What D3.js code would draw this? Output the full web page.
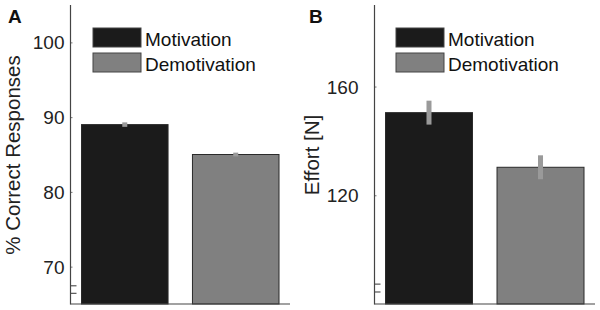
<!DOCTYPE html>
<html><head><meta charset="utf-8">
<script src="https://cdn.jsdelivr.net/npm/d3@7"></script>
<style>body{margin:0;background:#fff}svg{display:block}text{font-family:"Liberation Sans",Arial,sans-serif}</style>
</head><body><svg id="c" width="600" height="310"></svg>
<script>
const categories = ["Motivation", "Demotivation"];
const accuracyMeans = [89, 85];
const accuracySem = [0.3, 0.25];
const accuracyTicks = [70, 80, 90, 100];
const accuracyMinorTicks = [67.5, 66.5];
const effortMeans = [150.4, 130.3];
const effortSem = [4.4, 4.4];
const effortTicks = [120, 160];
const effortMinorTicks = [87.5, 84.6];
const colors = ["#1b1b1b", "#808080"];

const svg = d3.select("#c");

function panel(o) {
  const g = svg.append("g");
  const y = d3.scaleLinear().domain(o.domain).range([304, 5]);
  const x = d3.scaleBand().domain(categories).range([o.x0 + 11, o.x1 - 11]).paddingInner(0.22).paddingOuter(0);
  // bars
  g.selectAll("rect.bar").data(categories).join("rect")
    .attr("x", d => x(d)).attr("width", x.bandwidth())
    .attr("y", (d, i) => y(o.means[i])).attr("height", (d, i) => y(o.domain[0]) - y(o.means[i]))
    .attr("fill", (d, i) => colors[i]).attr("stroke", "#2a2a2a").attr("stroke-width", 1);
  // error bars
  g.selectAll("rect.err").data(categories).join("rect")
    .attr("x", d => x(d) + x.bandwidth() / 2 - 2.5).attr("width", 5)
    .attr("y", (d, i) => y(o.means[i] + o.sem[i]))
    .attr("height", (d, i) => y(o.means[i] - o.sem[i]) - y(o.means[i] + o.sem[i]))
    .attr("fill", "#9a9a9a");
  // axes
  const ax = g.append("g").attr("transform", `translate(${o.x0},0)`)
    .call(d3.axisRight(y).tickValues(o.ticks).tickSize(2).tickFormat(""));
  ax.select(".domain").remove();
  ax.selectAll("line").attr("stroke", "#777");
  const mx = g.append("g").attr("transform", `translate(${o.x0},0)`)
    .call(d3.axisRight(y).tickValues(o.minor).tickSize(6).tickFormat(""));
  mx.select(".domain").remove();
  mx.selectAll("line").attr("stroke", "#333");
  g.selectAll("text.tl").data(o.ticks).join("text")
    .attr("x", o.x0 - o.labelGap).attr("y", d => y(d) + 7)
    .attr("text-anchor", "end").attr("font-size", 19).attr("fill", "#222").text(d => d);
  g.append("line").attr("x1", o.x0).attr("x2", o.x0).attr("y1", 5).attr("y2", 304.5)
    .attr("stroke", "#444").attr("stroke-width", 1.2);
  g.append("line").attr("x1", o.x0).attr("x2", o.x1).attr("y1", 304).attr("y2", 304)
    .attr("stroke", "#444").attr("stroke-width", 1.2);
  // y label
  g.append("text").attr("transform", `translate(${o.ylx},155) rotate(-90)`)
    .attr("text-anchor", "middle").attr("font-size", 20.5).attr("fill", "#222").text(o.ylabel);
  // panel letter
  g.append("text").attr("x", o.lx).attr("y", 23).attr("font-size", 19).attr("font-weight", "bold")
    .attr("fill", "#111").text(o.letter);
  // legend
  const lg = g.append("g");
  categories.forEach((c, i) => {
    lg.append("rect").attr("x", o.legX).attr("y", 28 + i * 25).attr("width", 48).attr("height", 19)
      .attr("fill", colors[i]).attr("stroke", "#444");
    lg.append("text").attr("x", o.legX + 52).attr("y", 46 + i * 25).attr("font-size", 19)
      .attr("fill", "#111").text(c);
  });
}

panel({x0: 70.5, x1: 290, domain: [65, 105], means: accuracyMeans, sem: accuracySem,
  ticks: accuracyTicks, minor: accuracyMinorTicks, labelGap: 6, ylabel: "% Correct Responses",
  ylx: 20, lx: 8, letter: "A", legX: 93});
panel({x0: 374.5, x1: 595, domain: [80, 190], means: effortMeans, sem: effortSem,
  ticks: effortTicks, minor: effortMinorTicks, labelGap: 16, ylabel: "Effort [N]",
  ylx: 319, lx: 309, letter: "B", legX: 396});
</script></body></html>
